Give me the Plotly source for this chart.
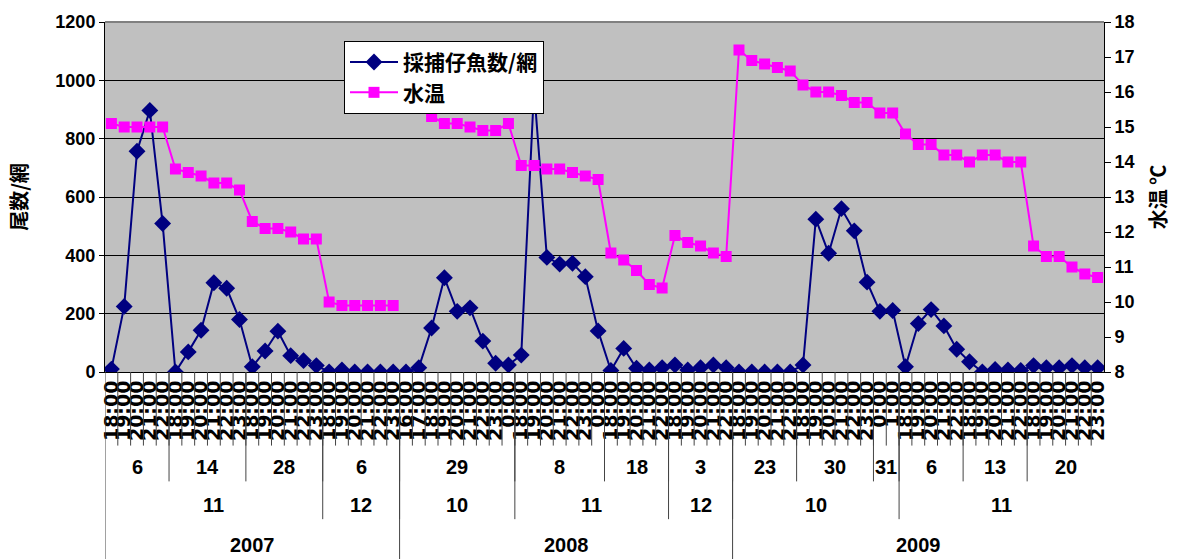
import plotly.graph_objects as go

# ---------------- data ----------------
time_labels = [
    "18:00", "19:00", "20:00", "21:00", "22:00",
    "18:00", "19:00", "20:00", "21:00", "22:00", "23:00",
    "18:00", "19:00", "20:00", "21:00", "22:00", "23:00",
    "18:00", "19:00", "20:00", "21:00", "22:00", "23:00",
    "16:00", "17:00", "18:00", "19:00", "20:00", "21:00", "22:00", "23:00", "0:00",
    "18:00", "19:00", "20:00", "21:00", "22:00", "23:00", "0:00",
    "18:00", "19:00", "20:00", "21:00", "22:00",
    "18:00", "19:00", "20:00", "21:00", "22:00",
    "18:00", "19:00", "20:00", "21:00", "22:00",
    "18:00", "19:00", "20:00", "21:00", "22:00", "23:00",
    "0:00", "1:00",
    "18:00", "19:00", "20:00", "21:00", "22:00",
    "18:00", "19:00", "20:00", "21:00", "22:00",
    "18:00", "19:00", "20:00", "21:00", "22:00", "23:00",
]

fish_per_net = [
    10, 225, 757, 897, 509,
    0, 69, 143, 306, 287, 180,
    18, 72, 140, 56, 39, 22,
    0, 7, 0, 0, 0, 0,
    0, 15, 151, 323, 208, 220, 106, 30, 24,
    58, 970, 393, 370, 373, 327, 141,
    5, 81, 13, 7, 15,
    24, 7, 15, 24, 15,
    0, 0, 0, 0, 0,
    24, 524, 407, 560, 484, 308,
    208, 211,
    18, 166, 214, 158, 78,
    35, 0, 9, 7, 5,
    22, 15, 15, 22, 15, 15,
]

water_temp = [
    15.1, 15.0, 15.0, 15.0, 15.0,
    13.8, 13.7, 13.6, 13.4, 13.4, 13.2,
    12.3, 12.1, 12.1, 12.0, 11.8, 11.8,
    10.0, 9.9, 9.9, 9.9, 9.9, 9.9,
    None, None, 15.3, 15.1, 15.1, 15.0, 14.9, 14.9, 15.1,
    13.9, 13.9, 13.8, 13.8, 13.7, 13.6, 13.5,
    11.4, 11.2, 10.9, 10.5, 10.4,
    11.9, 11.7, 11.6, 11.4, 11.3,
    17.2, 16.9, 16.8, 16.7, 16.6,
    16.2, 16.0, 16.0, 15.9, 15.7, 15.7,
    15.4, 15.4,
    14.8, 14.5, 14.5, 14.2, 14.2,
    14.0, 14.2, 14.2, 14.0, 14.0,
    11.6, 11.3, 11.3, 11.0, 10.8, 10.7,
]

day_labels = ["6", "14", "28", "6", "29", "8", "18", "3", "23", "30", "31", "6", "13", "20"]
day_counts = [5, 6, 6, 6, 9, 7, 5, 5, 5, 6, 2, 5, 5, 6]
month_labels = ["11", "12", "10", "11", "12", "10", "11"]
month_counts = [17, 6, 9, 12, 5, 13, 16]
year_labels = ["2007", "2008", "2009"]
year_counts = [23, 26, 29]

# ---------------- styling ----------------
FONT = "Liberation Sans, Noto Sans CJK JP, sans-serif"
TFONT = "DejaVu Sans, Liberation Sans, sans-serif"
JFONT = "Noto Sans CJK JP, Liberation Sans, sans-serif"
n = len(time_labels)
x = list(range(n))

H_PLOT = 352.0  # plot height in px (for paper conversions)


def py(px_below):
    return -px_below / H_PLOT


fig = go.Figure()
fig.add_trace(go.Scatter(
    x=x, y=fish_per_net, name="採捕仔魚数/網", mode="lines+markers",
    line=dict(color="#000080", width=2),
    marker=dict(symbol="diamond", size=13, color="#000080"),
    yaxis="y",
))
fig.add_trace(go.Scatter(
    x=x, y=water_temp, name="水温", mode="lines+markers",
    line=dict(color="#FF00FF", width=2),
    marker=dict(symbol="square", size=11, color="#FF00FF"),
    yaxis="y2", connectgaps=False,
))

shapes = []
annotations = []

# boundary lines between every category (tick dividers)
for i in range(1, n):
    shapes.append(dict(type="line", xref="x", yref="paper", x0=i - 0.5, x1=i - 0.5,
                       y0=0, y1=py(74), line=dict(color="#444444", width=1)))


def group_edges(counts):
    edges = [0]
    for c in counts:
        edges.append(edges[-1] + c)
    return edges


label_font = dict(family=FONT, size=20, color="black", weight="bold")

# day level
de = group_edges(day_counts)
for k, lab in enumerate(day_labels):
    a, b = de[k], de[k + 1]
    annotations.append(dict(x=(a + b - 1) / 2, y=py(96), xref="x", yref="paper", text=lab,
                            showarrow=False, font=label_font, yanchor="middle"))
for e in de[1:-1]:
    shapes.append(dict(type="line", xref="x", yref="paper", x0=e - 0.5, x1=e - 0.5,
                       y0=0, y1=py(110), line=dict(color="#444444", width=1)))

# month level
me = group_edges(month_counts)
for k, lab in enumerate(month_labels):
    a, b = me[k], me[k + 1]
    annotations.append(dict(x=(a + b - 1) / 2, y=py(134), xref="x", yref="paper", text=lab,
                            showarrow=False, font=label_font, yanchor="middle"))
for e in me[1:-1]:
    shapes.append(dict(type="line", xref="x", yref="paper", x0=e - 0.5, x1=e - 0.5,
                       y0=0, y1=py(148), line=dict(color="#444444", width=1)))

# year level
ye = group_edges(year_counts)
for k, lab in enumerate(year_labels):
    a, b = ye[k], ye[k + 1]
    annotations.append(dict(x=(a + b - 1) / 2, y=py(174), xref="x", yref="paper", text=lab,
                            showarrow=False, font=label_font, yanchor="middle"))
for e in ye[:-1]:
    shapes.append(dict(type="line", xref="x", yref="paper", x0=e - 0.5, x1=e - 0.5,
                       y0=0, y1=py(190), line=dict(color="#444444", width=1)))

# gray top border of the plot area
shapes.append(dict(type="line", xref="paper", yref="paper", x0=0, x1=1, y0=1, y1=1,
                   line=dict(color="#808080", width=2)))

fig.update_layout(
    width=1179, height=559,
    margin=dict(l=105, r=75, t=20, b=187),
    paper_bgcolor="white",
    plot_bgcolor="#C0C0C0",
    showlegend=True,
    legend=dict(
        x=(344 - 105) / 999, y=(372 - 39) / 352, xanchor="left", yanchor="top",
        bgcolor="white", bordercolor="black", borderwidth=1,
        font=dict(family=JFONT, size=21, color="black", weight="bold"),
        tracegroupgap=0, itemwidth=48,
    ),
    xaxis=dict(
        range=[-0.5, n - 0.5],
        tickmode="array", tickvals=x, ticktext=time_labels,
        tickangle=-90, ticks="",
        tickfont=dict(family=TFONT, size=19, color="black", weight="bold"),
        showgrid=False, zeroline=False,
        showline=True, linecolor="black", linewidth=1,
    ),
    yaxis=dict(
        range=[0, 1200], dtick=200, tick0=0,
        showgrid=True, gridcolor="black", gridwidth=1,
        zeroline=False, showline=True, linecolor="black", linewidth=1,
        ticks="outside", ticklen=5, tickcolor="black",
        tickfont=dict(family=FONT, size=18, color="black", weight="bold"),
        title=dict(text="尾数/網", font=dict(family=JFONT, size=20, color="black", weight="bold"),
                   standoff=22),
    ),
    yaxis2=dict(
        range=[8, 18], dtick=1, tick0=8,
        overlaying="y", side="right",
        showgrid=False, zeroline=False,
        showline=True, linecolor="black", linewidth=1,
        ticks="outside", ticklen=6, tickcolor="black",
        tickfont=dict(family=FONT, size=18, color="black", weight="bold"),
        title=dict(text="水温 ℃", font=dict(family=JFONT, size=20, color="black", weight="bold"),
                   standoff=18),
    ),
    shapes=shapes,
    annotations=annotations,
)

fig.write_html("out.html")
